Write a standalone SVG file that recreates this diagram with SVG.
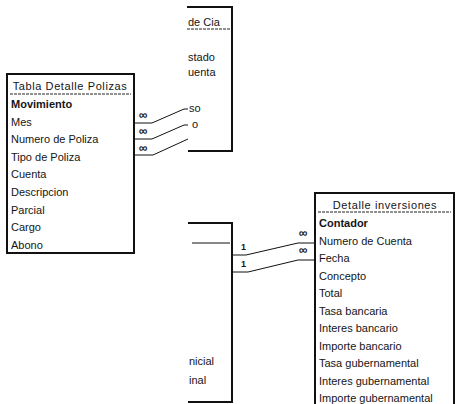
<svg xmlns="http://www.w3.org/2000/svg" width="457" height="404" viewBox="0 0 457 404">
<style>
text{font-family:"Liberation Sans",Arial,sans-serif;font-size:11px;fill:#151515}
.b{font-weight:bold}
.t{letter-spacing:0.6px}
.bd{stroke:#111;stroke-width:2;fill:none}
.ul{stroke:#222;stroke-width:1;stroke-dasharray:3 1;fill:none}
.cn{stroke:#111;stroke-width:1;fill:none}
.inf{font-size:12px;font-weight:bold}
.one{font-size:9px;font-weight:bold}
</style>
<rect width="457" height="404" fill="#fff"/>
<g id="tabla-cia">
<path class="bd" d="M187,7 H232 V151 H188"/>
<line class="ul" x1="187" y1="29" x2="230" y2="29"/>
<text x="188" y="26">de Cia</text>
<text x="188" y="61">stado</text>
<text x="188" y="76">uenta</text>
<text x="189" y="112">so</text>
<text x="192" y="128">o</text>
</g>
<g id="tabla-detalle-polizas">
<rect class="bd" x="7" y="74" width="127" height="179"/>
<line class="ul" x1="10" y1="94" x2="131" y2="94"/>
<text class="t" x="70" y="90" text-anchor="middle">Tabla Detalle Polizas</text>
<text class="b" x="11" y="108">Movimiento</text>
<text x="11" y="125.6">Mes</text>
<text x="11" y="143.2">Numero de Poliza</text>
<text x="11" y="160.8">Tipo de Poliza</text>
<text x="11" y="178.4">Cuenta</text>
<text x="11" y="196">Descripcion</text>
<text x="11" y="213.6">Parcial</text>
<text x="11" y="231.2">Cargo</text>
<text x="11" y="248.8">Abono</text>
</g>
<g id="tabla-saldos">
<path class="bd" d="M188,223 H232 V402 H188"/>
<line class="cn" x1="192" y1="243" x2="230" y2="243"/>
<text x="189" y="365">nicial</text>
<text x="189" y="384">inal</text>
</g>
<g id="detalle-inversiones">
<path class="bd" d="M315,405 V193 H454 V405"/>
<line class="ul" x1="318" y1="212" x2="451" y2="212"/>
<text class="t" x="385" y="209" text-anchor="middle">Detalle inversiones</text>
<text class="b" x="319" y="227">Contador</text>
<text x="319" y="244.5">Numero de Cuenta</text>
<text x="319" y="262">Fecha</text>
<text x="319" y="279.5">Concepto</text>
<text x="319" y="297">Total</text>
<text x="319" y="314.5">Tasa bancaria</text>
<text x="319" y="332">Interes bancario</text>
<text x="319" y="349.5">Importe bancario</text>
<text x="319" y="367">Tasa gubernamental</text>
<text x="319" y="384.5">Interes gubernamental</text>
<text x="319" y="402">Importe gubernamental</text>
</g>
<g id="connectors">
<path class="cn" d="M134,123 H152 L184,109 H188"/>
<path class="cn" d="M134,139 H152 L184,125 H188"/>
<path class="cn" d="M134,155 H153 L188,139"/>
<text class="inf" x="139" y="119">∞</text>
<text class="inf" x="139" y="135">∞</text>
<text class="inf" x="139" y="152">∞</text>
<path class="cn" d="M232,255 H246 L298,243 H315"/>
<path class="cn" d="M232,272 H248 L298,260 H315"/>
<text class="one" x="241" y="250">1</text>
<text class="one" x="241" y="267">1</text>
<text class="inf" x="299" y="237">∞</text>
<text class="inf" x="299" y="254">∞</text>
</g>
</svg>
